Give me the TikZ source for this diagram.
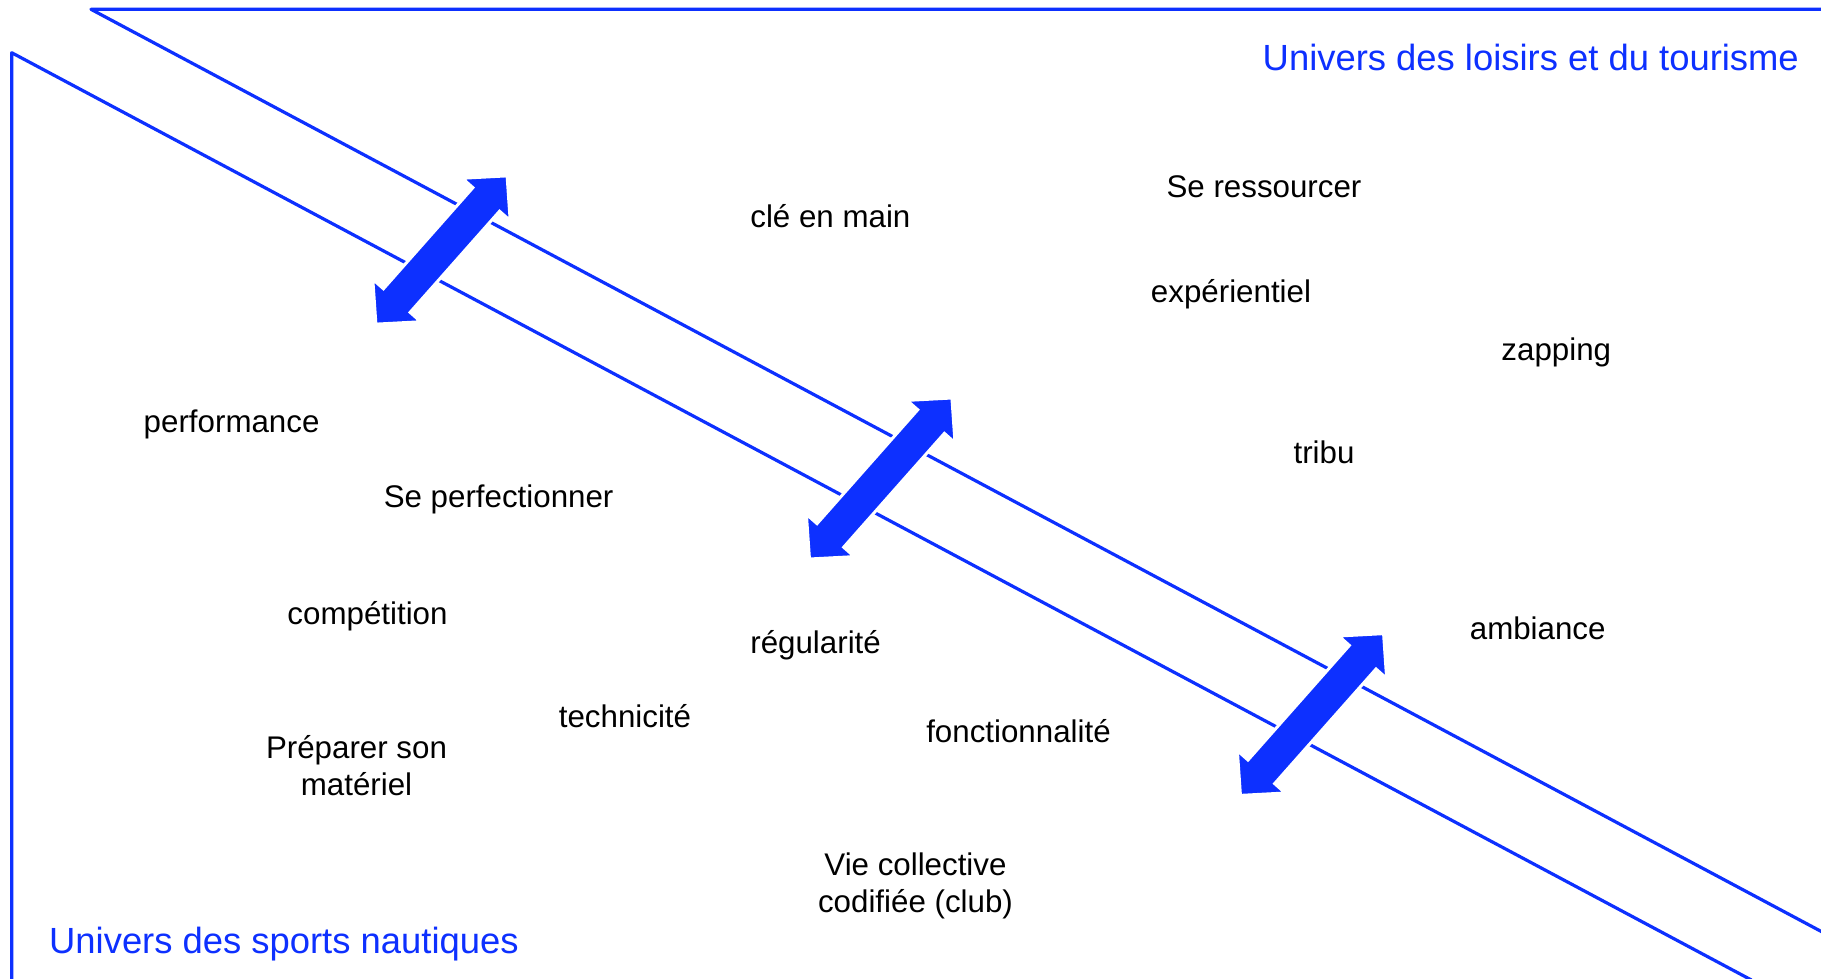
\documentclass[tikz,border=0pt]{standalone}
\usepackage{fontspec}
\setmainfont{Liberation Sans}
\definecolor{ublue}{RGB}{13,48,255}
\tikzset{
  frame/.style={draw=ublue, line width=3.2pt, line join=round, line cap=round},
  word/.style={inner sep=0pt, anchor=base, text=black, font=\fontsize{31.3}{37}\selectfont, align=center},
  title/.style={inner sep=0pt, text=ublue, font=\fontsize{36.4}{42}\selectfont},
  arrowshape/.style={fill=ublue, draw=white, line width=3pt, line join=miter}
}
\newcommand{\dblarr}[3]{% cx, cy, length
  \begin{scope}[shift={(#1,#2)}, rotate=48.5]
    \pgfmathsetmacro\hl{#3/2+2}
    \pgfmathsetmacro\hb{#3/2-29.5}
    \filldraw[arrowshape] (-\hl,0) -- (-\hb,32) -- (-\hb,17.8) -- (\hb,17.8) -- (\hb,32)
      -- (\hl,0) -- (\hb,-32) -- (\hb,-17.8) -- (-\hb,-17.8) -- (-\hb,-32) -- cycle;
  \end{scope}}
\begin{document}
\begin{tikzpicture}[x=1pt,y=-1pt]
\useasboundingbox[fill=white] (0,0) rectangle (1821,978);
% frame lines
\coordinate (tr) at (1823,9.3);
\coordinate (tl) at (91,9.3);
\coordinate (ur) at (1823,932.4);
\coordinate (ll) at (11.7,980);
\coordinate (lt) at (11.7,52.7);
\coordinate (lr) at (1751.4,980);
\draw[frame] (tr) -- (tl) -- (ur);
\draw[frame] (ll) -- (lt) -- (lr);
% double arrows
\dblarr{441.5}{250}{194}
\dblarr{880.7}{478.5}{211}
\dblarr{1312}{714.5}{212}
% titles
\node[title, anchor=base east] (tloisirs) at (1799,70) {Univers des loisirs et du tourisme};
\node[title, anchor=base west] (tsports) at (49,953) {Univers des sports nautiques};
% words
\node[word] (cle) at (830.4,227) {clé en main};
\node[word] (ressourcer) at (1264,197) {Se ressourcer};
\node[word] (experientiel) at (1231,302) {expérientiel};
\node[word] (zapping) at (1556.3,360) {zapping};
\node[word] (performance) at (231.6,432) {performance};
\node[word] (tribu) at (1324,463) {tribu};
\node[word] (perfectionner) at (498.6,507) {Se perfectionner};
\node[word] (competition) at (367.5,624) {compétition};
\node[word] (ambiance) at (1537.7,639) {ambiance};
\node[word] (regularite) at (815.6,653) {régularité};
\node[word] (technicite) at (625,727) {technicité};
\node[word] (fonctionnalite) at (1018.5,742) {fonctionnalité};
\node[word] (preparer) at (356.5,795.3) {Préparer son\\matériel};
\node[word] (vie) at (915.5,912) {Vie collective\\codifiée (club)};
\end{tikzpicture}
\end{document}
